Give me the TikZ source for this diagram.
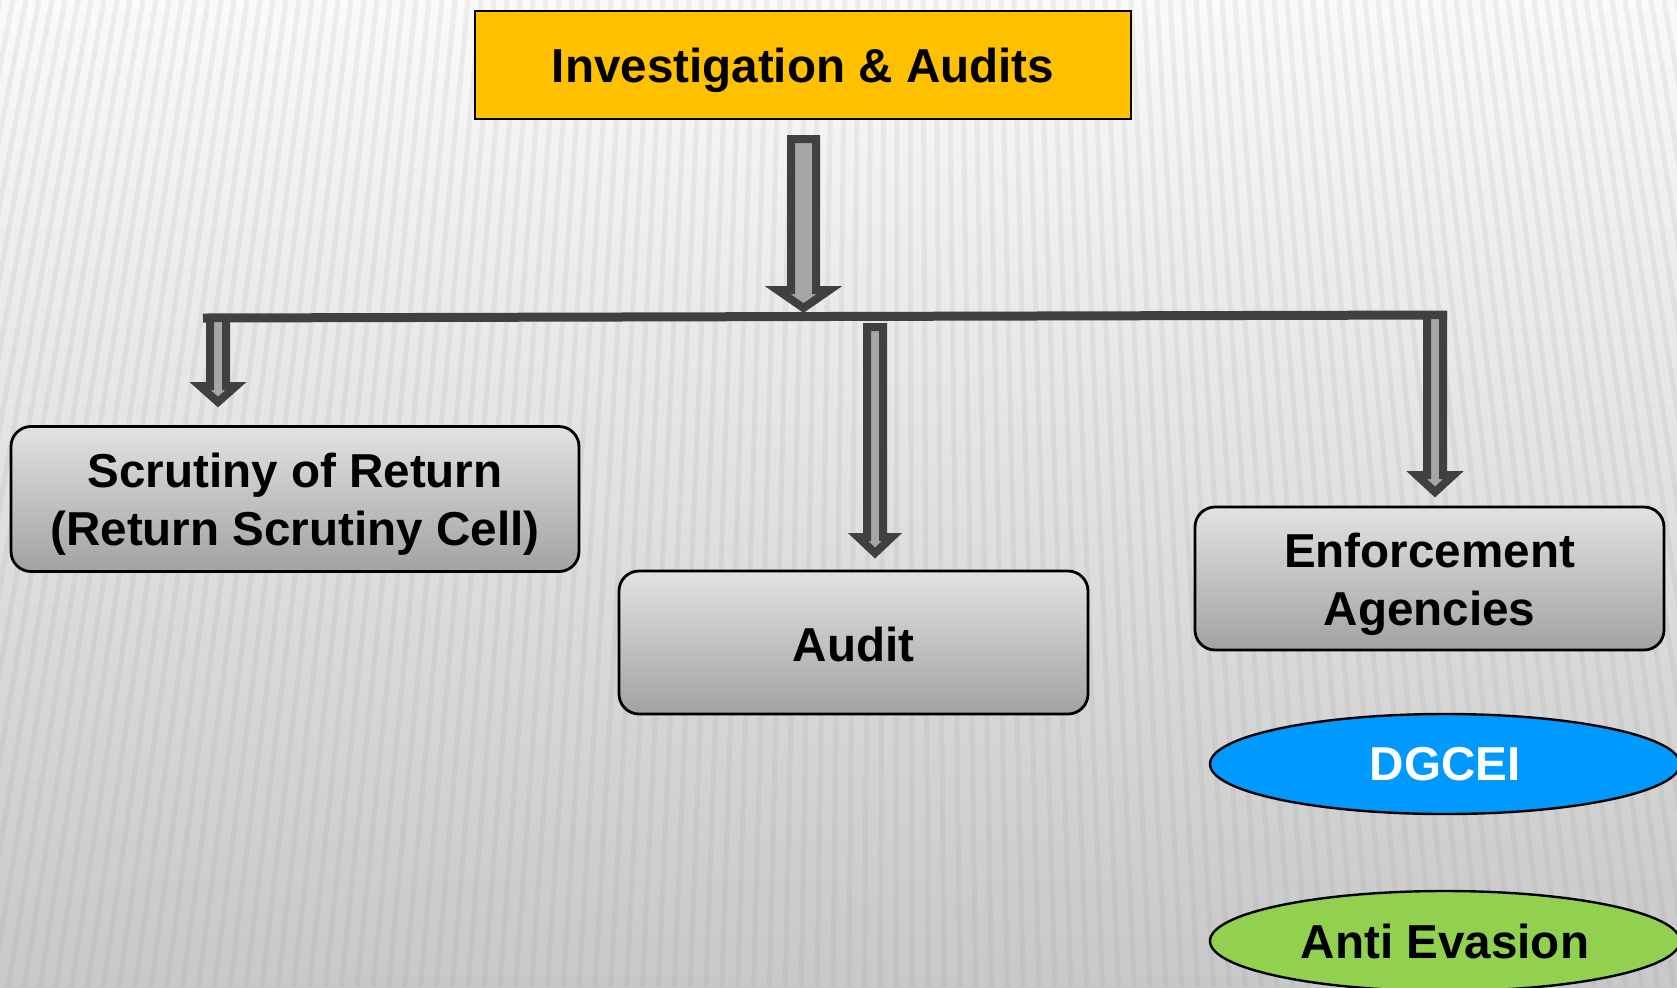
\documentclass[tikz,border=0pt]{standalone}
\usepackage{fontspec}
\setmainfont{Liberation Sans}
\usetikzlibrary{shapes.geometric}
\definecolor{topfill}{HTML}{FFC000}
\definecolor{arrowdark}{HTML}{404040}
\definecolor{arrowfill}{HTML}{A6A6A6}
\definecolor{dgblue}{HTML}{0099FF}
\definecolor{aegreen}{HTML}{92D050}
\definecolor{boxtop}{HTML}{E2E2E2}
\definecolor{boxbot}{HTML}{A2A2A2}
\definecolor{bgtop}{HTML}{FAFAFA}
\definecolor{bgbot}{HTML}{C8C8C8}
\newcommand{\txtfont}{\bfseries\fontsize{23.8}{29}\selectfont}
\newcommand{\blockarrow}[6]{\draw[blockarr] ({#1-#5},#2) -- ({#1+#5},#2) -- ({#1+#5},#3) -- ({#1+#6},#3) -- (#1,#4) -- ({#1-#6},#3) -- ({#1-#5},#3) -- cycle;}
\begin{document}
\begin{tikzpicture}[x=0.5pt,y=-0.5pt,
  box/.style={draw=black, line width=1.4pt, rounded corners=10pt, top color=boxtop, bottom color=boxbot, inner sep=0pt},
  txt/.style={font=\txtfont, align=center, inner sep=0pt},
  oval/.style={ellipse, draw=black, line width=1.2pt, font=\txtfont, inner sep=0pt, minimum width=235pt, minimum height=50pt},
  blockarr/.style={draw=arrowdark, fill=arrowfill, line width=4pt, line join=miter},
  bus/.style={draw=arrowdark, line width=4.5pt, line cap=butt},
  stripe/.style={line width=2.5pt, draw=gray, opacity=0.1}]
\useasboundingbox (0,0) rectangle (1677,987);
\clip (0,0) rectangle (1677,987);
% background
\shade[top color=bgtop, bottom color=bgbot] (0,0) rectangle (1677,987);
\foreach \i in {-30,...,150} {
  \draw[stripe] ({\i*13},0) -- ({\i*13 + 0.22*(\i*13-900)},987);
}
% nodes
\node[draw=black, line width=1pt, fill=topfill, minimum width=328pt, minimum height=54pt, inner sep=0pt,
  label={[txt, yshift=-2.5pt]center:Investigation \& Audits}] (top) at (803,65) {};
\node[box, minimum width=284pt, minimum height=72.5pt,
  label={[txt, yshift=-2.5pt]center:Scrutiny of Return\\(Return Scrutiny Cell)}] (scrutiny) at (295,499) {};
\node[box, minimum width=234.5pt, minimum height=71.5pt,
  label={[txt, yshift=-1pt]center:Audit}] (audit) at (853.5,642.5) {};
\node[box, minimum width=234.5pt, minimum height=71.5pt,
  label={[txt, yshift=-3pt]center:Enforcement\\Agencies}] (enforce) at (1429.5,578.5) {};
\node[oval, fill=dgblue, text=white] (dgcei) at (1445,764) {DGCEI};
\node[oval, fill=aegreen] (anti) at (1445,941) {Anti Evasion};
% bus line
\coordinate (busL) at (203,318);
\coordinate (busR) at (1447,315);
\draw[bus] (busL) -- (busR);
% block arrows
\blockarrow{803.5}{139}{290}{308}{12.5}{26}
\blockarrow{218}{318}{386}{402}{8}{18}
\blockarrow{875}{327}{537}{553}{8}{17}
\blockarrow{1435}{315}{475}{492}{8}{18.5}
\end{tikzpicture}
\end{document}
